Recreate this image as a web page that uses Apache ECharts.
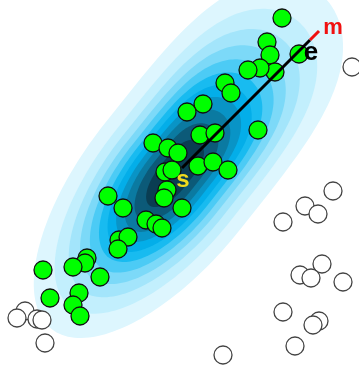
<!DOCTYPE html>
<html><head><meta charset="utf-8">
<script src="https://cdn.jsdelivr.net/npm/echarts@6/dist/echarts.min.js"></script>
<style>html,body{margin:0;padding:0;background:#fff}#c{width:359px;height:369px}</style>
</head><body><div id="c"></div>
<script>
// Data (x to the right, y downward)
const greenPoints = [
  [282,18],[267,42],[270,55],[275,72],[260,68],[248,70],[299,54],
  [225,83],[231,93],[203,104],[187,112],
  [153,143],[168,148],[178,153],
  [200,135],[215,133],[258,130],
  [198,166],[213,162],[228,170],
  [165,172],[172,170],
  [167,190],[164,198],[182,208],
  [108,196],[123,208],[146,220],[156,224],[162,228],
  [119,240],[128,237],[118,249],
  [87,258],[85,263],[73,267],[100,277],[43,270],
  [50,298],[79,293],[73,305],[80,316]
];
const whitePoints = [
  [352,67],[333,191],[305,206],[318,214],[283,222],[322,264],[300,275],[311,278],
  [343,282],[283,312],[319,321],[313,325],[295,346],[223,355],
  [25,311],[17,318],[37,319],[42,320],[45,343]
];
const pathPoints = [[182,168],[310,40],[319,31]];
const pathLabels = ['s','e','m'];
// density contour model (centre, axis angle, half-lengths, exponents)
const densityCenter = [172,177];
const densityAngle = -51.5;
const halfWidth = 86;
const halfLengthUp = 236, expUp = 3.8;
const halfLengthDown = 194, expDown = 2.0;
const contourLevels = [1,0.849,0.747,0.665,0.594,0.528,0.466,0.404,0.341,0.271,0.187];
const contourColors = ['#ddf6fe','#c2effd','#a3e5fb','#7cd9f8','#4ccbf5','#18bbf0','#03aee9','#0994c6','#0b7aa1','#0c5a78','#0a3d52'];

const chart = echarts.init(document.getElementById('c'), null, {renderer:'canvas'});
const labelStyles = [
  {color:'#f0dc1e', fontSize:24, offset:[1,12]},
  {color:'#000000', fontSize:26, offset:[1,13]},
  {color:'#f01010', fontSize:22, offset:[14,-3]}
];
chart.setOption({
  animation:false,
  grid:{left:0,right:0,top:0,bottom:0},
  xAxis:{type:'value',min:0,max:359,show:false},
  yAxis:{type:'value',min:0,max:369,inverse:true,show:false},
  series:[
    {
      type:'custom', coordinateSystem:'cartesian2d', silent:true, z:1,
      data: contourLevels.map((r,i)=>[i,i]),
      renderItem(params, api){
        const i = api.value(0);
        const s = contourLevels[i];
        const a = densityAngle*Math.PI/180;
        const pts = [];
        const N = 180;
        for(let k=0;k<N;k++){
          const t = k/N*2*Math.PI;
          const c = Math.cos(t), sn = Math.sin(t);
          const A = c>=0 ? halfLengthUp : halfLengthDown;
          const p = c>=0 ? expUp : expDown;
          const lx = s*A*Math.sign(c)*Math.pow(Math.abs(c), 2/p);
          const ly = s*halfWidth*sn;
          const x = densityCenter[0] + lx*Math.cos(a) - ly*Math.sin(a);
          const y = densityCenter[1] + lx*Math.sin(a) + ly*Math.cos(a);
          pts.push(api.coord([x,y]));
        }
        return {type:'polygon', shape:{points:pts}, style:{fill:contourColors[i]}};
      }
    },
    {
      type:'scatter', z:2, data:whitePoints, symbolSize:18, silent:true,
      itemStyle:{color:'#ffffff',borderColor:'#444',borderWidth:1.3,opacity:1}
    },
    {
      type:'scatter', z:3, data:greenPoints, symbolSize:18, silent:true,
      itemStyle:{color:'#00ff00',borderColor:'#111',borderWidth:1.3,opacity:1}
    },
    {
      type:'line', z:4, data:pathPoints.slice(0,2), symbol:'none', silent:true,
      lineStyle:{color:'#000',width:3}
    },
    {
      type:'line', z:4, data:pathPoints.slice(1,3), symbol:'none', silent:true,
      lineStyle:{color:'#f01010',width:3}
    },
    {
      type:'scatter', z:5, silent:true, symbolSize:1,
      itemStyle:{color:'rgba(0,0,0,0)',opacity:1},
      data: pathPoints.map((p,i)=>({
        value:p,
        label:{show:true,position:'inside',formatter:pathLabels[i],opacity:1,
          color:labelStyles[i].color,fontSize:labelStyles[i].fontSize,
          fontWeight:'bold',fontFamily:'Liberation Sans, Arial, sans-serif',
          offset:labelStyles[i].offset}
      }))
    }
  ]
});
</script>
</body></html>
